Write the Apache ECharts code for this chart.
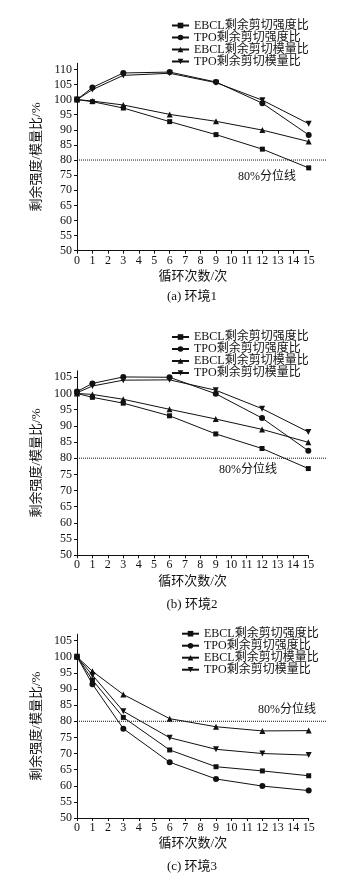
<!DOCTYPE html>
<html><head><meta charset="utf-8">
<script src="https://cdn.jsdelivr.net/npm/echarts@6/dist/echarts.min.js"></script>
<style>html,body{margin:0;padding:0;background:#fff}#c{width:353px;height:883px}</style>
</head><body><div id="c"></div>
<script>
// ---- data ----
const cycles = [0, 1, 3, 6, 9, 12, 15];
const seriesNames = ['EBCL剩余剪切强度比', 'TPO剩余剪切强度比', 'EBCL剩余剪切模量比', 'TPO剩余剪切模量比'];

const env1EbclStrength = [100, 99.3, 97.2, 92.7, 88.4, 83.6, 77.4];
const env1TpoStrength  = [100, 104.0, 108.8, 109.1, 105.8, 98.8, 88.3];
const env1EbclModulus  = [100, 99.5, 98.2, 95.1, 92.8, 89.9, 86.1];
const env1TpoModulus   = [100, 103.3, 108.0, 108.7, 105.6, 99.8, 92.0];

const env2EbclStrength = [100, 98.8, 97.0, 93.1, 87.5, 83.0, 76.8];
const env2TpoStrength  = [100.6, 103.1, 105.1, 105.0, 99.9, 92.4, 82.3];
const env2EbclModulus  = [100, 99.7, 98.2, 95.1, 92.1, 88.9, 84.9];
const env2TpoModulus   = [100.2, 102.3, 104.1, 104.2, 101.0, 95.3, 88.1];

const env3EbclStrength = [100, 92.8, 81.2, 71.1, 65.9, 64.6, 63.1];
const env3TpoStrength  = [100, 91.5, 77.7, 67.3, 62.1, 59.9, 58.5];
const env3EbclModulus  = [100, 95.5, 88.3, 80.8, 78.3, 77.0, 77.1];
const env3TpoModulus   = [100, 94.3, 83.1, 74.9, 71.3, 70.0, 69.5];

const xTicks = [0, 1, 2, 3, 4, 5, 6, 7, 8, 9, 10, 11, 12, 13, 14, 15];
const yTicksA = [50, 55, 60, 65, 70, 75, 80, 85, 90, 95, 100, 105, 110];
const yTicksBC = [50, 55, 60, 65, 70, 75, 80, 85, 90, 95, 100, 105];
const captions = ['(a) 环境1', '(b) 环境2', '(c) 环境3'];
const thresholdValue = 80;
const thresholdLabel = '80%分位线';
const xAxisName = '循环次数/次';
const yAxisName = '剩余强度/模量比/%';

// ---- layout / style ----
const FONT = "'Times New Roman','Liberation Serif','Noto Sans CJK SC',serif";
const INK = '#111';
const panels = [
  { data: [env1EbclStrength, env1TpoStrength, env1EbclModulus, env1TpoModulus], yTicks: yTicksA, yMax: 112,
    top: 63.3, height: 187.4, width: 231.7, legendLeft: 171, legendTop: 19.5, capY: 297, lab: [267, 177] },
  { data: [env2EbclStrength, env2TpoStrength, env2EbclModulus, env2TpoModulus], yTicks: yTicksBC, yMax: 107,
    top: 370.8, height: 184.5, width: 231.3, legendLeft: 171, legendTop: 331, capY: 605, lab: [248, 470] },
  { data: [env3EbclStrength, env3TpoStrength, env3EbclModulus, env3TpoModulus], yTicks: yTicksBC, yMax: 107,
    top: 634.2, height: 183.8, width: 231.7, legendLeft: 181, legendTop: 627.7, capY: 867, lab: [287, 710] }
];
const symbols = [
  { symbol: 'rect', size: 5, rotate: 0 },
  { symbol: 'circle', size: 6, rotate: 0 },
  { symbol: 'triangle', size: 6, rotate: 0 },
  { symbol: 'triangle', size: 6, rotate: 180 }
];

const grid = [], xAxis = [], yAxis = [], series = [], legend = [], graphic = [];
panels.forEach((p, i) => {
  const gMain = grid.length;
  grid.push({ left: 77, top: p.top, width: p.width, height: p.height, containLabel: false });
  grid.push({ left: 77, top: p.top, width: 250, height: p.height, containLabel: false });
  xAxis.push({
    gridIndex: gMain, type: 'value', min: 0, max: 15, interval: 1,
    name: xAxisName, nameLocation: 'middle', nameGap: 19.5,
    nameTextStyle: { fontFamily: FONT, fontSize: 13, color: INK },
    axisLine: { lineStyle: { color: INK, width: 1 } },
    axisTick: { length: 3, lineStyle: { color: INK } },
    axisLabel: { fontFamily: FONT, fontSize: 12, color: INK, margin: 4, customValues: xTicks },
    splitLine: { show: false }
  });
  xAxis.push({ gridIndex: gMain + 1, type: 'value', min: 0, max: 15, show: false });
  yAxis.push({
    gridIndex: gMain, type: 'value', min: 50, max: p.yMax,
    name: yAxisName, nameLocation: 'middle', nameGap: 28, nameRotate: 90,
    nameTextStyle: { fontFamily: FONT, fontSize: 13, color: INK },
    axisLine: { show: true, lineStyle: { color: INK, width: 1 } },
    axisTick: { show: true, length: 3, lineStyle: { color: INK }, customValues: p.yTicks },
    axisLabel: { fontFamily: FONT, fontSize: 12, color: INK, margin: 5, customValues: p.yTicks },
    splitLine: { show: false }
  });
  yAxis.push({ gridIndex: gMain + 1, type: 'value', min: 50, max: p.yMax, show: false });

  series.push({
    type: 'line', xAxisIndex: gMain + 1, yAxisIndex: gMain + 1, symbol: 'none', silent: true,
    data: [[0, thresholdValue], [15, thresholdValue]],
    lineStyle: { color: INK, width: 1, type: 'dotted' }, z: 1
  });
  p.data.forEach((vals, k) => {
    series.push({
      type: 'line', name: seriesNames[k], xAxisIndex: gMain, yAxisIndex: gMain,
      data: cycles.map((c, j) => [c, vals[j]]),
      symbol: symbols[k].symbol, symbolSize: symbols[k].size, symbolRotate: symbols[k].rotate,
      lineStyle: { color: INK, width: 1 }, itemStyle: { color: INK }, z: 3
    });
  });
  legend.push({
    orient: 'vertical', left: p.legendLeft, top: p.legendTop, padding: 0,
    itemWidth: 17, itemHeight: 7, itemGap: 0, selectedMode: false,
    textStyle: { fontFamily: FONT, fontSize: 12, color: INK, lineHeight: 11.4 },
    data: seriesNames
  });
  graphic.push({ type: 'text', x: 192, y: p.capY,
    style: { text: captions[i], font: '13px ' + FONT, fill: INK, align: 'center', verticalAlign: 'middle' } });
  graphic.push({ type: 'text', x: p.lab[0], y: p.lab[1],
    style: { text: thresholdLabel, font: '12px ' + FONT, fill: INK, align: 'center', verticalAlign: 'middle' } });
});

const chart = echarts.init(document.getElementById('c'), null, { renderer: 'canvas' });
chart.setOption({ backgroundColor: '#fff', animation: false, grid, xAxis, yAxis, series, legend, graphic });
</script>
</body></html>
